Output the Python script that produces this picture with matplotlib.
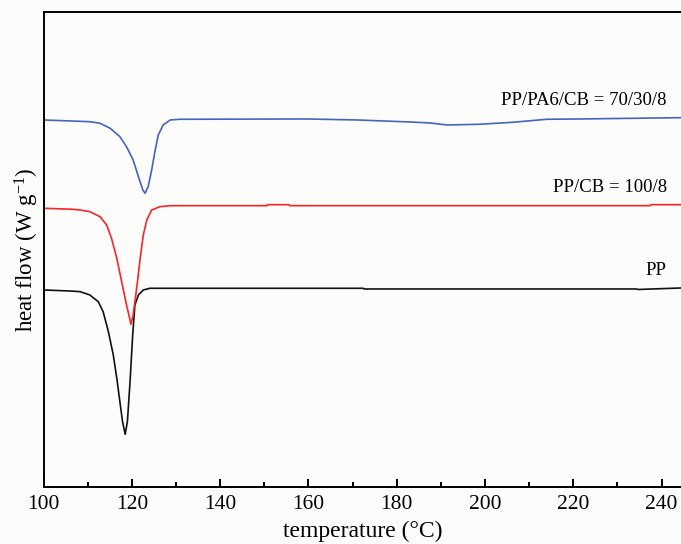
import numpy as np
import matplotlib
matplotlib.use("Agg")
import matplotlib.pyplot as plt
from matplotlib.ticker import MultipleLocator, NullLocator

plt.rcParams['font.family'] = ['Liberation Serif', 'DejaVu Serif']
plt.rcParams['mathtext.fontset'] = 'custom'
plt.rcParams['mathtext.rm'] = 'Liberation Serif'
plt.rcParams['mathtext.it'] = 'Liberation Serif:italic'

# DSC cooling curves, heat flow in arbitrary offset units
t_pp = [100.0, 106.0, 108.3, 110.5, 112.4, 113.5, 114.7, 115.8, 116.6, 117.3,
        117.9, 118.5, 119.0, 119.6, 120.2, 120.7, 121.5, 122.6, 124.1, 133.2,
        172.4, 172.6, 234.4, 234.6, 244.4]
hf_pp = [1.97, 1.96, 1.953, 1.92, 1.853, 1.753, 1.553, 1.32, 1.087, 0.853,
         0.653, 0.527, 0.653, 1.053, 1.52, 1.82, 1.92, 1.97, 1.987, 1.987,
         1.987, 1.98, 1.98, 1.975, 1.99]

t_cb = [100.0, 106.7, 108.3, 110.5, 112.8, 114.3, 115.4, 116.6, 117.7, 118.8,
        119.6, 119.8, 120.3, 121.1, 121.9, 122.6, 123.4, 124.5, 126.4, 128.7,
        150.6, 150.8, 155.6, 155.8, 237.4, 237.6, 244.4]
hf_cb = [2.787, 2.777, 2.77, 2.753, 2.703, 2.62, 2.487, 2.287, 2.053, 1.82,
         1.67, 1.627, 1.72, 1.987, 2.287, 2.52, 2.67, 2.77, 2.803, 2.813,
         2.813, 2.823, 2.823, 2.813, 2.813, 2.823, 2.823]

t_cb_pa6 = [100.0, 110.5, 112.8, 115.1, 117.3, 118.8, 120.3, 121.5, 122.5, 123.0,
            123.7, 124.5, 125.3, 126.0, 127.1, 128.7, 130.9, 159.7, 171.0, 183.0,
            187.5, 191.4, 198.8, 206.3, 214.0, 221.5, 244.4]
hf_cb_pa6 = [3.67, 3.653, 3.637, 3.587, 3.503, 3.403, 3.27, 3.103, 2.97, 2.937,
             3.003, 3.17, 3.37, 3.52, 3.62, 3.67, 3.677, 3.68, 3.67, 3.65,
             3.64, 3.62, 3.627, 3.647, 3.677, 3.68, 3.693]

labels = ['PP', 'PP/CB = 100/8', 'PP/PA6/CB = 70/30/8']
label_y = [2.16, 2.99, 3.86]
colors = ['#111111', '#f4262a', '#4763bd']

fig = plt.figure(figsize=(6.81, 5.44), dpi=100, facecolor='#fcfcfa')
ax = fig.add_axes([0.0639, 0.1048, 0.9361, 0.8732], facecolor='#fcfcfa')

for t, hf, c in zip([t_pp, t_cb, t_cb_pa6], [hf_pp, hf_cb, hf_cb_pa6], colors):
    ax.plot(t, hf, color=c, lw=1.2)

for lab, y in zip(labels, label_y):
    ax.text(241.2, y, lab, ha='right', va='center', fontsize=13.5)

ax.set_xlim(100, 244.4)
ax.set_ylim(0, 4.75)
ax.xaxis.set_major_locator(MultipleLocator(20))
ax.xaxis.set_minor_locator(MultipleLocator(10))
ax.yaxis.set_major_locator(NullLocator())
ax.tick_params(axis='x', which='major', direction='in', length=6, width=1.4,
               labelsize=15.5, pad=6)
ax.tick_params(axis='x', which='minor', direction='in', length=3.5, width=1.4)
for s in ['left', 'bottom', 'top']:
    ax.spines[s].set_linewidth(1.4)
ax.spines['right'].set_visible(False)

ax.set_xlabel('temperature (°C)', fontsize=17, labelpad=5)
ax.set_ylabel('heat flow (W g$^{-1}$)', fontsize=16.5, labelpad=2)

fig.savefig('out.png', dpi=100, facecolor=fig.get_facecolor())
